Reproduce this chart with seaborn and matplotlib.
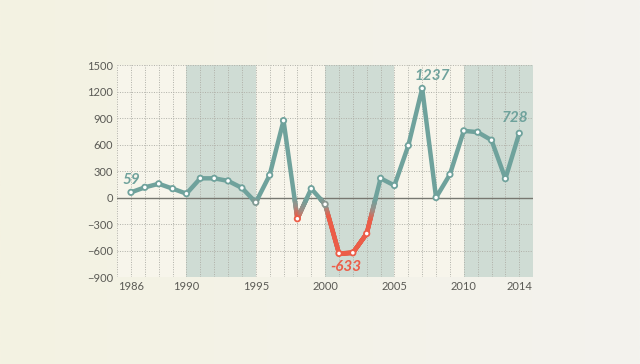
import numpy as np
import pandas as pd
import matplotlib
matplotlib.use('Agg')
import matplotlib.pyplot as plt
import seaborn as sns
from matplotlib.collections import LineCollection
from matplotlib.colors import LinearSegmentedColormap

# Data
years = list(range(1986, 2015))
values = [59, 116, 156, 101, 44, 218, 218, 189, 109, -55,
          254, 872, -240, 101, -76, -633, -626, -408, 218, 137,
          589, 1237, 0, 262, 756, 741, 650, 214, 728]
bands = [(1990, 1995), (2000, 2005), (2010, 2015)]
yticks = [-900, -600, -300, 0, 300, 600, 900, 1200, 1500]
xticks = [1986, 1990, 1995, 2000, 2005, 2010, 2014]

teal = '#6fa29c'
red = '#ec5d48'

df = pd.DataFrame({'year': years, 'value': values})

sns.set_theme(style='white')
plt.rcParams['font.family'] = ['Lato', 'DejaVu Sans']

fig = plt.figure(figsize=(6.4, 3.64), dpi=100)

# soft background gradient
bg = fig.add_axes([0, 0, 1, 1], zorder=-10)
grad = np.linspace(0, 1, 256).reshape(1, -1)
bg.imshow(grad, aspect='auto', extent=[0, 1, 0, 1],
          cmap=LinearSegmentedColormap.from_list('bg', ['#f4f2e2', '#f3f3ee']))
bg.axis('off')

ax = fig.add_axes([0.183, 0.239, 0.650, 0.582])
ax.set_facecolor('#f7f5eb')

for a, b in bands:
    ax.axvspan(a, b, color='#cfdcd4', zorder=0, lw=0)

# dotted grid
for x in range(1985, 2016):
    ax.axvline(x, color='#b0b0a8', lw=0.7, ls=(0, (1, 1.5)), zorder=1)
for y in yticks:
    ax.axhline(y, color='#b0b0a8', lw=0.7, ls=(0, (1, 1.5)), zorder=1)
ax.axhline(0, color='#777770', lw=1.0, zorder=2)

# main line
sns.lineplot(data=df, x='year', y='value', color=teal, lw=3.2, ax=ax,
             zorder=3, solid_capstyle='round', solid_joinstyle='round')

# colour the dips: teal fading to red below zero
cmap = LinearSegmentedColormap.from_list('tr', [teal, '#9c9088', red])


def frac_of(v):
    return np.clip((-10 - np.asarray(v)) / 220, 0, 1)


xs, ys = [], []
for i in range(len(years) - 1):
    t = np.linspace(0, 1, 60, endpoint=False)
    xs.extend(years[i] + t * (years[i + 1] - years[i]))
    ys.extend(values[i] + t * (values[i + 1] - values[i]))
xs.append(years[-1]); ys.append(values[-1])
xs = np.array(xs); ys = np.array(ys)
pts = np.array([xs, ys]).T.reshape(-1, 1, 2)
segs = np.concatenate([pts[:-1], pts[1:]], axis=1)
mid = (ys[:-1] + ys[1:]) / 2
fr = frac_of(mid)
keep = fr > 0.02
lc = LineCollection(segs[keep], colors=cmap(fr[keep]), lw=3.2, zorder=4,
                    capstyle='round')
ax.add_collection(lc)

# markers
pcol = [cmap(float(frac_of(v))) for v in values]
ax.scatter(years, values, s=15, facecolor='white', edgecolor=pcol,
           linewidth=1.3, zorder=5)

# annotations
kw = dict(fontsize=11, fontweight='bold', style='italic', ha='center', va='center')
ax.text(1986.05, 200, '59', color=teal, **kw)
ax.text(2007.7, 1378, '1237', color=teal, **kw)
ax.text(2013.7, 900, '728', color=teal, **kw)
ax.text(2001.5, -790, '-633', color=red, **kw)

ax.set_xlim(1985, 2015)
ax.set_ylim(-900, 1500)
ax.set_xticks(xticks)
ax.set_yticks(yticks)
ax.tick_params(axis='both', labelsize=8, colors='#5a5a55', length=0, pad=3)
ax.set_xlabel('')
ax.set_ylabel('')
for s in ax.spines.values():
    s.set_visible(False)

fig.savefig('out.png', dpi=100)
